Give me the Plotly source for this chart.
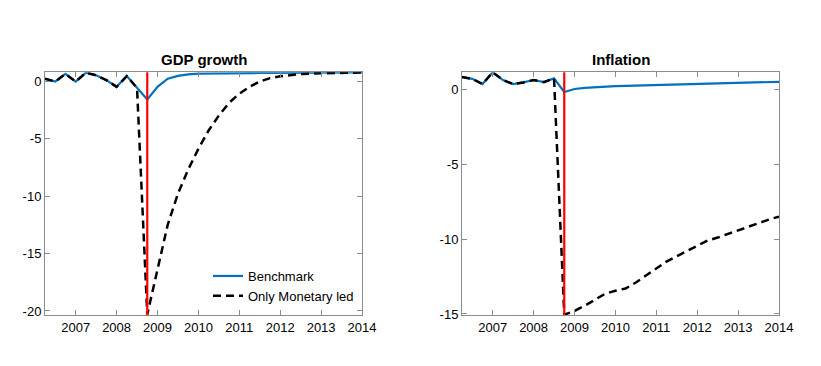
import plotly.graph_objects as go

# Quarterly dates 2006Q2 .. 2014Q1 (decimal years)
dates = [2006.25 + 0.25 * i for i in range(32)]

gdp_benchmark = [0.2, -0.05, 0.62, -0.05, 0.72, 0.5, 0.08, -0.5, 0.43, -0.6,
                 -1.6, -0.5, 0.2, 0.45, 0.58, 0.64, 0.66, 0.67, 0.68, 0.69,
                 0.7, 0.7, 0.71, 0.71, 0.72, 0.72, 0.73, 0.73, 0.74, 0.74,
                 0.75, 0.75]
gdp_monetary = [0.2, -0.05, 0.62, -0.05, 0.72, 0.5, 0.08, -0.5, 0.43, -0.6,
                -20.3, -16.4, -12.5, -9.8, -7.7, -5.9, -4.3, -3.0, -1.9, -1.1,
                -0.5, -0.05, 0.25, 0.42, 0.53, 0.6, 0.65, 0.68, 0.7, 0.72,
                0.73, 0.74]

infl_benchmark = [0.82, 0.7, 0.35, 1.13, 0.62, 0.35, 0.46, 0.62, 0.48, 0.73,
                  -0.18, 0.02, 0.1, 0.15, 0.18, 0.21, 0.23, 0.25, 0.27, 0.29,
                  0.31, 0.33, 0.35, 0.36, 0.38, 0.4, 0.41, 0.43, 0.45, 0.46,
                  0.48, 0.5]
infl_monetary = [0.82, 0.7, 0.35, 1.13, 0.62, 0.35, 0.46, 0.62, 0.48, 0.73,
                 -15.05, -14.8, -14.45, -14.05, -13.65, -13.45, -13.3, -12.9,
                 -12.45, -11.95, -11.5, -11.15, -10.8, -10.4, -10.1, -9.9,
                 -9.65, -9.4, -9.15, -8.9, -8.7, -8.5]

event_date = 2008.75
year_ticks = [2007, 2008, 2009, 2010, 2011, 2012, 2013, 2014]
gdp_ticks = [0, -5, -10, -15, -20]
infl_ticks = [0, -5, -10, -15]
titles = ["GDP growth", "Inflation"]
series_names = ["Benchmark", "Only Monetary led"]

W, H = 821, 366
OFF = 8  # page body margin
BLUE = "#0072BD"
GREY = "#8c8c8c"
FONT = "Liberation Sans, Arial, sans-serif"


def px_x(x):
    return (x - OFF) / W


def px_y(y):
    return 1 - (y - OFF) / H


fig = go.Figure()

panels = [
    dict(xa="x", ya="y", bench=gdp_benchmark, mon=gdp_monetary, legend=True),
    dict(xa="x2", ya="y2", bench=infl_benchmark, mon=infl_monetary, legend=False),
]
for p in panels:
    fig.add_trace(go.Scatter(x=dates, y=p["bench"], mode="lines", name=series_names[0],
                             line=dict(color=BLUE, width=2.2), xaxis=p["xa"], yaxis=p["ya"],
                             showlegend=p["legend"]))
    fig.add_trace(go.Scatter(x=dates, y=p["mon"], mode="lines", name=series_names[1],
                             line=dict(color="black", width=2.5, dash="8px,5px"),
                             xaxis=p["xa"], yaxis=p["ya"], showlegend=p["legend"]))
    fig.add_shape(type="line", x0=event_date, x1=event_date, y0=0, y1=1,
                  xref=p["xa"], yref=p["ya"] + " domain",
                  line=dict(color="#ff0000", width=2.2))

ydom = [px_y(315), px_y(72.3)]
xdom1 = [px_x(45), px_x(362)]
xdom2 = [px_x(462), px_x(779)]

axis_common = dict(showgrid=False, zeroline=False, showline=True, mirror="ticks",
                   automargin=False,
                   linecolor=GREY, linewidth=1, ticks="inside", ticklen=5,
                   tickcolor=GREY, tickfont=dict(family=FONT, size=13, color="black"))


def labels(vals):
    return [str(v) for v in vals]


fig.update_layout(
    width=W, height=H,
    margin=dict(l=0, r=0, t=0, b=0),
    paper_bgcolor="white", plot_bgcolor="white",
    font=dict(family=FONT, size=13, color="black"),
    xaxis=dict(domain=xdom1, range=[2006.25, 2014.0], tickvals=year_ticks,
               ticktext=labels(year_ticks), anchor="y", **axis_common),
    yaxis=dict(domain=ydom, range=[-20.35, 0.76], tickvals=gdp_ticks,
               ticktext=labels(gdp_ticks), anchor="x", **axis_common),
    xaxis2=dict(domain=xdom2, range=[2006.25, 2014.0], tickvals=year_ticks,
                ticktext=labels(year_ticks), anchor="y2", **axis_common),
    yaxis2=dict(domain=ydom, range=[-15.07, 1.135], tickvals=infl_ticks,
                ticktext=labels(infl_ticks), anchor="x2", **axis_common),
    showlegend=True,
    legend=dict(x=px_x(208), y=px_y(261), xanchor="left", yanchor="top",
                bgcolor="rgba(255,255,255,0)", borderwidth=0,
                font=dict(family=FONT, size=13, color="black"),
                tracegroupgap=0, itemwidth=30),
    annotations=[
        dict(text="<b>" + titles[0] + "</b>", x=(xdom1[0] + xdom1[1]) / 2, y=px_y(60),
             xref="paper", yref="paper", showarrow=False, xanchor="center", yanchor="middle",
             font=dict(family=FONT, size=15, color="black")),
        dict(text="<b>" + titles[1] + "</b>", x=(xdom2[0] + xdom2[1]) / 2, y=px_y(60),
             xref="paper", yref="paper", showarrow=False, xanchor="center", yanchor="middle",
             font=dict(family=FONT, size=15, color="black")),
    ],
)

fig.write_html("out.html")
